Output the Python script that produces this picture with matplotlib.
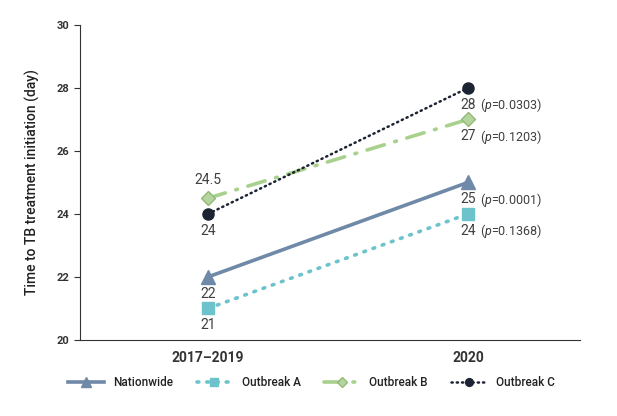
import matplotlib
matplotlib.use('agg')
import matplotlib.pyplot as plt

plt.rcParams['font.family'] = ['Roboto', 'DejaVu Sans']
plt.rcParams['mathtext.fontset'] = 'custom'
plt.rcParams['mathtext.rm'] = 'Roboto'
plt.rcParams['mathtext.it'] = 'Roboto:italic'

# data
periods = ['2017\u20132019', '2020']
nationwide = [22, 25]
outbreak_a = [21, 24]
outbreak_b = [24.5, 27]
outbreak_c = [24, 28]
p_values = {'Nationwide': '0.0001', 'Outbreak A': '0.1368',
            'Outbreak B': '0.1203', 'Outbreak C': '0.0303'}

fig = plt.figure(figsize=(6.17, 4.16), dpi=100)
ax = fig.add_axes([0.130, 0.183, 0.810, 0.757])

x = [0, 1]
series = [
    ('Nationwide', nationwide, dict(color='#6f89a8', ls='-', lw=2.6, marker='^', ms=10)),
    ('Outbreak A', outbreak_a, dict(color='#6dc3cb', ls=(0, (0.5, 2.2)), lw=2.6, marker='s', ms=9,
                                    dash_capstyle='round')),
    ('Outbreak B', outbreak_b, dict(color='#a9d18e', ls=(0, (5, 3, 0.5, 3)), lw=2.6, marker='D', ms=7,
                                    markeredgecolor='#93b87a', markerfacecolor='#b5d59e',
                                    dash_capstyle='round')),
    ('Outbreak C', outbreak_c, dict(color='#1c2433', ls=(0, (0.5, 1.6)), lw=1.8, marker='o', ms=8,
                                    dash_capstyle='round')),
]
for name, vals, st in series:
    ax.plot(x, vals, label=name, **st)

lab_col = '#404040'
# value labels at first period
for name, vals, st in series:
    v = vals[0]
    if name == 'Outbreak B':
        ax.annotate(f'{v:g}', (0, v), xytext=(0, 8), textcoords='offset points',
                    ha='center', va='bottom', fontsize=10, color=lab_col)
    else:
        ax.annotate(f'{v:g}', (0, v), xytext=(0, -7), textcoords='offset points',
                    ha='center', va='top', fontsize=10, color=lab_col)
# value labels + p at second period
for name, vals, st in series:
    v = vals[1]
    ax.annotate(f'{v:g}', (1, v), xytext=(0, -7), textcoords='offset points',
                ha='center', va='top', fontsize=10, color=lab_col)
    ax.annotate('($\\it{p}$=' + p_values[name] + ')', (1, v), xytext=(9, -6),
                textcoords='offset points', ha='left', va='top', fontsize=9, color=lab_col)

ax.set_xlim(-0.492, 1.431)
ax.set_ylim(20, 30)
ax.set_yticks([20, 22, 24, 26, 28, 30])
ax.set_xticks(x)
ax.set_xticklabels(periods, fontsize=10, fontweight='bold', color='#333333')
ax.tick_params(axis='x', length=0, pad=8)
ax.tick_params(axis='y', length=4, labelsize=8, colors='#333333', width=0.8)
for lbl in ax.get_yticklabels():
    lbl.set_fontweight('bold')
ax.spines['top'].set_visible(False)
ax.spines['right'].set_visible(False)
ax.spines['left'].set_color('#333333')
ax.spines['bottom'].set_color('#333333')
ax.set_ylabel('Time to TB treatment initiation (day)', fontsize=10, fontweight='medium',
              color='#222222', labelpad=12)

leg = fig.legend(loc='center', bbox_to_anchor=(0.505, 0.08), ncol=4, frameon=False,
                 prop={'size': 8.5, 'weight': 'medium'}, handlelength=3.0,
                 columnspacing=2.0, handletextpad=0.8, markerscale=0.7)
for t in leg.get_texts():
    t.set_color('#222222')

plt.savefig('out.png', dpi=100)
